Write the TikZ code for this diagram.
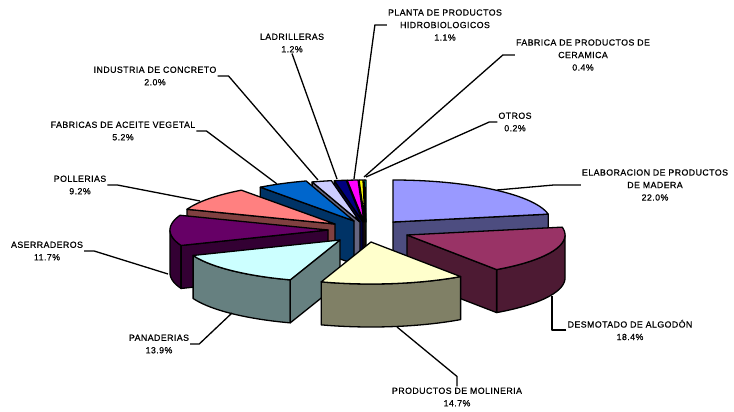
\documentclass[tikz,border=0pt]{standalone}
\usepackage{fontspec}
\newfontfamily\lblfont[LetterSpace=5,FakeBold=0.6]{Liberation Sans}
\definecolor{elabT}{HTML}{9999FF}\definecolor{elabS}{HTML}{4D4D80}
\definecolor{desmT}{HTML}{993366}\definecolor{desmS}{HTML}{4D1A33}
\definecolor{molT}{HTML}{FFFFCC}\definecolor{molS}{HTML}{808066}
\definecolor{panT}{HTML}{CCFFFF}\definecolor{panS}{HTML}{668080}
\definecolor{aseT}{HTML}{660066}\definecolor{aseS}{HTML}{330033}
\definecolor{polT}{HTML}{FF8080}\definecolor{polS}{HTML}{804040}
\definecolor{aceT}{HTML}{0066CC}\definecolor{aceS}{HTML}{003366}
\definecolor{conT}{HTML}{CCCCFF}\definecolor{conS}{HTML}{666680}
\definecolor{ladT}{HTML}{000080}\definecolor{ladS}{HTML}{000040}
\definecolor{plaT}{HTML}{FF00FF}\definecolor{plaS}{HTML}{800080}
\definecolor{cerT}{HTML}{FFFF00}\definecolor{cerS}{HTML}{808000}
\definecolor{otrT}{HTML}{00FFFF}\definecolor{otrS}{HTML}{008080}
\newcommand\pieRX{158}
\newcommand\pieRY{42}
\newcommand\pieD{43}
% top face: Vx Vy a b colour
\newcommand\pietop[5]{\filldraw[pieline,fill=#5] (#1,#2) -- plot[domain=#3:#4,samples=60] ({#1+\pieRX*sin(\x)},{#2-\pieRY*cos(\x)}) -- cycle;}
% radial cut face: Vx Vy angle colour
\newcommand\piecut[4]{\filldraw[pieline,fill=#4] (#1,#2) -- ({#1+\pieRX*sin(#3)},{#2-\pieRY*cos(#3)}) -- ++(0,\pieD) -- (#1,{#2+\pieD}) -- cycle;}
% outer face: Vx Vy a b colour
\newcommand\pieouter[5]{\filldraw[pieline,fill=#5] plot[domain=#3:#4,samples=60] ({#1+\pieRX*sin(\x)},{#2-\pieRY*cos(\x)}) -- plot[domain=#4:#3,samples=60] ({#1+\pieRX*sin(\x)},{#2-\pieRY*cos(\x)+\pieD}) -- cycle;}
\begin{document}
\begin{tikzpicture}[x=1pt,y=-1pt,
  pieline/.style={draw=black,line width=1.3pt,line join=round},
  lbl/.style={font=\lblfont\fontsize{8.8}{12.5}\selectfont,align=center,inner sep=1pt},
  lead/.style={draw=black,line width=1.3pt,line join=round}]
\fill[white] (0,0) rectangle (734,412);
\useasboundingbox (0,0) rectangle (734,412);
% back, tiny slices
\piecut{366}{222}{359.28}{otrS}\pietop{366}{222}{359.28}{360}{otrT}
\piecut{365}{222}{357.84}{cerS}\pietop{365}{222}{357.84}{359.28}{cerT}
\piecut{364}{222}{353.88}{plaS}\pietop{364}{222}{353.88}{357.84}{plaT}
\piecut{363}{222}{349.56}{ladS}\pietop{363}{222}{349.56}{353.88}{ladT}
\piecut{360}{222}{342.36}{conS}\pietop{360}{222}{342.36}{349.56}{conT}
% aceite
\piecut{354}{221}{323.64}{aceS}\pietop{354}{221}{323.64}{342.36}{aceT}
% pollerias
\piecut{335}{224}{290.52}{polS}\pietop{335}{224}{290.52}{323.64}{polT}
% aserraderos
\pieouter{328}{230}{248.4}{270}{aseS}\piecut{328}{230}{248.4}{aseS}\pietop{328}{230}{248.4}{290.52}{aseT}
% elaboracion
\piecut{393}{222}{79.2}{elabS}\pietop{393}{222}{0}{79.2}{elabT}
% desmotado
\pieouter{407}{235}{90}{145.44}{desmS}\piecut{407}{235}{145.44}{desmS}\pietop{407}{235}{79.2}{145.44}{desmT}
% panaderias
\pieouter{340}{240}{198.36}{248.4}{panS}\piecut{340}{240}{198.36}{panS}\pietop{340}{240}{198.36}{248.4}{panT}
% molineria
\pieouter{371}{242}{145.44}{198.36}{molS}\pietop{371}{242}{145.44}{198.36}{molT}
% labels
\node[lbl] (lPlanta) at (445,25) {PLANTA DE PRODUCTOS\\HIDROBIOLOGICOS\\1.1\%};
\node[lbl] (lCeram) at (583,55) {FABRICA DE PRODUCTOS DE\\CERAMICA\\0.4\%};
\node[lbl] (lOtros) at (515,122) {OTROS\\0.2\%};
\node[lbl] (lElab) at (655,185) {ELABORACION DE PRODUCTOS\\DE MADERA\\22.0\%};
\node[lbl] (lLadr) at (292,43) {LADRILLERAS\\1.2\%};
\node[lbl] (lConc) at (155,76) {INDUSTRIA DE CONCRETO\\2.0\%};
\node[lbl] (lAceite) at (123,131) {FABRICAS DE ACEITE VEGETAL\\5.2\%};
\node[lbl] (lPoll) at (80,185) {POLLERIAS\\9.2\%};
\node[lbl] (lAserr) at (47,251) {ASERRADEROS\\11.7\%};
\node[lbl] (lPan) at (159,344) {PANADERIAS\\13.9\%};
\node[lbl] (lDesm) at (630,330) {DESMOTADO DE ALGODÓN\\18.4\%};
\node[lbl] (lMol) at (457,397) {PRODUCTOS DE MOLINERIA\\14.7\%};
% leader end points on the pie
\coordinate (pPlanta) at (354,179);
\coordinate (pCeram) at (364,177);
\coordinate (pOtros) at (366,177);
\coordinate (pElab) at (497,190);
\coordinate (pDesm) at (552,296);
\coordinate (pMol) at (397,327);
\coordinate (pPan) at (232,313);
\coordinate (pAserr) at (168,274);
\coordinate (pPoll) at (200,201);
\coordinate (pAceite) at (277,184);
\coordinate (pConc) at (318,180);
\coordinate (pLadr) at (337,179);
% leaders
\draw[lead] (lPlanta.west) -- ++(-12,0) -- (pPlanta);
\draw[lead] (lCeram.west) -- ++(-12,0) -- (pCeram);
\draw[lead] (lOtros.west) -- ++(-8,0) -- (pOtros);
\draw[lead] (lElab.west) -- ++(-27,0) -- (pElab);
\draw[lead] (lDesm.west) -- (pDesm |- lDesm.west) -- (pDesm);
\draw[lead] (lMol.north) -- ++(0,-10) -- (pMol);
\draw[lead] (lPan.east) -- ++(9,0) -- (pPan);
\draw[lead] (lAserr.east) -- ++(10,0) -- (pAserr);
\draw[lead] (lPoll.east) -- ++(10,0) -- (pPoll);
\draw[lead] (lAceite.east) -- ++(10,0) -- (pAceite);
\draw[lead] (lConc.east) -- ++(11,0) -- (pConc);
\draw[lead] (lLadr.south) -- (pLadr);
\end{tikzpicture}
\end{document}
